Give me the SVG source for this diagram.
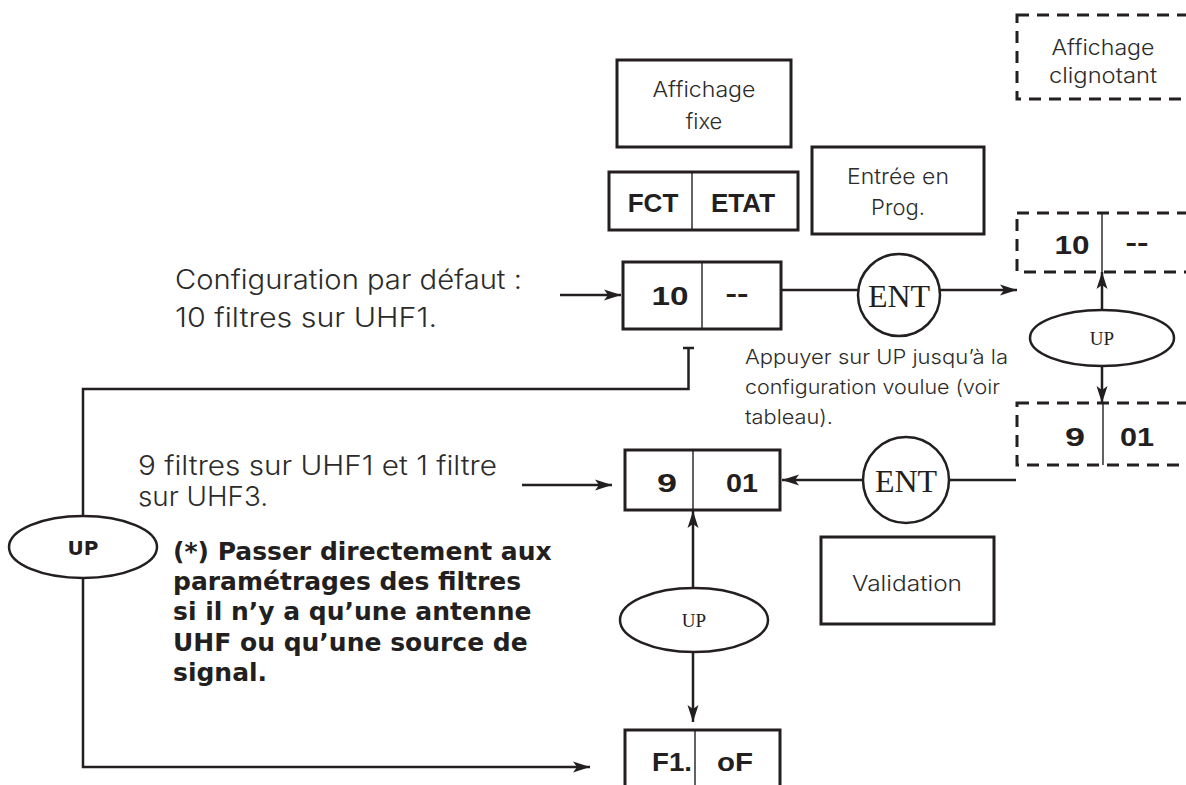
<svg xmlns="http://www.w3.org/2000/svg" width="1186" height="785" viewBox="0 0 1186 785">
  <style>
    .box{fill:#fff;stroke:#231f20;stroke-width:3}
    .dash{fill:#fff;stroke:#231f20;stroke-width:3;stroke-dasharray:12 8}
    .div{stroke:#231f20;stroke-width:1.4}
    .ln{fill:none;stroke:#231f20;stroke-width:2.5}
    .btn{fill:#fff;stroke:#231f20;stroke-width:2.5}
    .lt{font-family:Inter,"Liberation Sans",Arial,sans-serif;font-weight:300;fill:#2b2b2b}
    .lbl{font-size:22px;text-anchor:middle}
    .big{font-size:27px}
    .small{font-size:20px}
    .seg{font-family:"Liberation Sans",Arial,sans-serif;font-weight:bold;font-size:26px;fill:#231f20;text-anchor:middle}
    .note{font-family:"DejaVu Sans",sans-serif;font-weight:bold;font-size:25px;fill:#231f20}
    .ser{font-family:"Liberation Serif","Times New Roman",serif;fill:#231f20;text-anchor:middle}
  </style>
  <defs>
    <marker id="arr" markerUnits="userSpaceOnUse" markerWidth="18" markerHeight="12" refX="17" refY="6" orient="auto">
      <path d="M0,0.5 L17,6 L0,11.5 L4,6 z" fill="#231f20"/>
    </marker>
  </defs>

  <!-- connectors -->
  <g id="connectors">
    <line class="ln" x1="560" y1="295" x2="621" y2="295" marker-end="url(#arr)"/>
    <line class="ln" x1="781" y1="290" x2="860" y2="290"/>
    <line class="ln" x1="938" y1="290" x2="1017" y2="290" marker-end="url(#arr)"/>
    <line class="ln" x1="1102" y1="310" x2="1102" y2="272" marker-end="url(#arr)"/>
    <line class="ln" x1="1102" y1="366" x2="1102" y2="403" marker-end="url(#arr)"/>
    <line class="ln" x1="1016" y1="480" x2="948" y2="480"/>
    <line class="ln" x1="864" y1="480" x2="782" y2="480" marker-end="url(#arr)"/>
    <line class="ln" x1="522" y1="485" x2="612" y2="485" marker-end="url(#arr)"/>
    <line class="ln" x1="693" y1="588" x2="693" y2="511" marker-end="url(#arr)"/>
    <line class="ln" x1="693" y1="652" x2="693" y2="722" marker-end="url(#arr)"/>
    <path class="ln" d="M683,348 H694 M688.5,348 V389 H83 V767 H590" marker-end="url(#arr)"/>
  </g>

  <g id="legend-fixed">
    <rect class="box" x="617" y="60" width="174" height="87"/>
    <text class="lt lbl" x="704" y="97" textLength="103" lengthAdjust="spacingAndGlyphs">Affichage</text>
    <text class="lt lbl" x="704" y="129">fixe</text>
  </g>

  <g id="legend-blink">
    <rect class="dash" x="1017" y="15" width="200" height="84"/>
    <text class="lt lbl" x="1103" y="55" textLength="103" lengthAdjust="spacingAndGlyphs">Affichage</text>
    <text class="lt lbl" x="1103" y="83" textLength="108" lengthAdjust="spacingAndGlyphs">clignotant</text>
  </g>

  <g id="header">
    <rect class="box" x="609" y="172" width="189" height="58"/>
    <line class="div" x1="692" y1="172" x2="692" y2="230"/>
    <text class="seg" x="653" y="212" font-size="28">FCT</text>
    <text class="seg" x="743" y="212" font-size="28">ETAT</text>
  </g>

  <g id="legend-prog">
    <rect class="box" x="812" y="147" width="172" height="87"/>
    <text class="lt lbl" x="898" y="184" textLength="102" lengthAdjust="spacingAndGlyphs">Entrée en</text>
    <text class="lt lbl" x="898" y="215">Prog.</text>
  </g>

  <g id="note-default">
    <text class="lt big" x="175" y="289" textLength="347" lengthAdjust="spacingAndGlyphs">Configuration par défaut :</text>
    <text class="lt big" x="175" y="327" textLength="262" lengthAdjust="spacingAndGlyphs">10 filtres sur UHF1.</text>
  </g>

  <g id="state-10">
    <rect class="box" x="623" y="262" width="158" height="67"/>
    <line class="div" x1="702" y1="262" x2="702" y2="329"/>
    <text class="seg" x="670" y="305" textLength="37" lengthAdjust="spacingAndGlyphs">10</text>
    <text class="seg" x="737" y="302" textLength="23" lengthAdjust="spacingAndGlyphs">--</text>
  </g>

  <g id="ent-1">
    <circle class="btn" cx="899" cy="295" r="41"/>
    <text class="ser" x="899" y="307" font-size="32">ENT</text>
  </g>

  <g id="state-10-blink">
    <rect class="dash" x="1017" y="213" width="200" height="59"/>
    <line class="div" x1="1102" y1="213" x2="1102" y2="272"/>
    <text class="seg" x="1072" y="254" textLength="35" lengthAdjust="spacingAndGlyphs">10</text>
    <text class="seg" x="1137" y="251" textLength="23" lengthAdjust="spacingAndGlyphs">--</text>
  </g>

  <g id="up-right">
    <ellipse class="btn" cx="1102" cy="338" rx="72" ry="28"/>
    <text class="ser" x="1102" y="345" font-size="19">UP</text>
  </g>

  <g id="state-901-blink">
    <rect class="dash" x="1017" y="403" width="200" height="62"/>
    <line class="div" x1="1103" y1="403" x2="1103" y2="465"/>
    <text class="seg" x="1075" y="446" textLength="20" lengthAdjust="spacingAndGlyphs">9</text>
    <text class="seg" x="1137" y="446" textLength="34" lengthAdjust="spacingAndGlyphs">01</text>
  </g>

  <g id="note-up">
    <text class="lt small" x="745" y="364" textLength="263" lengthAdjust="spacingAndGlyphs">Appuyer sur UP jusqu’à la</text>
    <text class="lt small" x="745" y="394" textLength="255" lengthAdjust="spacingAndGlyphs">configuration voulue (voir</text>
    <text class="lt small" x="745" y="424" textLength="88" lengthAdjust="spacingAndGlyphs">tableau).</text>
  </g>

  <g id="note-9">
    <text class="lt big" x="138" y="475" textLength="359" lengthAdjust="spacingAndGlyphs">9 filtres sur UHF1 et 1 filtre</text>
    <text class="lt big" x="138" y="506" textLength="130" lengthAdjust="spacingAndGlyphs">sur UHF3.</text>
  </g>

  <g id="state-901">
    <rect class="box" x="625" y="450" width="155" height="60"/>
    <line class="div" x1="693" y1="450" x2="693" y2="510"/>
    <text class="seg" x="667" y="492" textLength="20" lengthAdjust="spacingAndGlyphs">9</text>
    <text class="seg" x="742" y="492" textLength="32" lengthAdjust="spacingAndGlyphs">01</text>
  </g>

  <g id="ent-2">
    <circle class="btn" cx="906" cy="480" r="43"/>
    <text class="ser" x="906" y="492" font-size="32">ENT</text>
  </g>

  <g id="legend-valid">
    <rect class="box" x="821" y="537" width="173" height="87"/>
    <text class="lt lbl" x="907" y="591" textLength="110" lengthAdjust="spacingAndGlyphs">Validation</text>
  </g>

  <g id="up-left">
    <ellipse class="btn" cx="83" cy="547" rx="74" ry="31"/>
    <text x="83" y="555" font-family="DejaVu Sans, sans-serif" font-size="20" font-weight="bold" fill="#231f20" text-anchor="middle">UP</text>
  </g>

  <g id="note-skip">
    <text class="note" x="173" y="560">(*) Passer directement aux</text>
    <text class="note" x="173" y="590">paramétrages des filtres</text>
    <text class="note" x="173" y="620">si il n’y a qu’une antenne</text>
    <text class="note" x="173" y="651">UHF ou qu’une source de</text>
    <text class="note" x="173" y="681">signal.</text>
  </g>

  <g id="up-mid">
    <ellipse class="btn" cx="694" cy="620" rx="74" ry="32"/>
    <text class="ser" x="694" y="627" font-size="19">UP</text>
  </g>

  <g id="state-f1">
    <rect class="box" x="625" y="730" width="155" height="70"/>
    <line class="div" x1="695" y1="730" x2="695" y2="800"/>
    <text class="seg" x="672" y="771" textLength="40" lengthAdjust="spacingAndGlyphs">F1.</text>
    <text class="seg" x="735" y="771" textLength="36" lengthAdjust="spacingAndGlyphs">oF</text>
  </g>
</svg>
